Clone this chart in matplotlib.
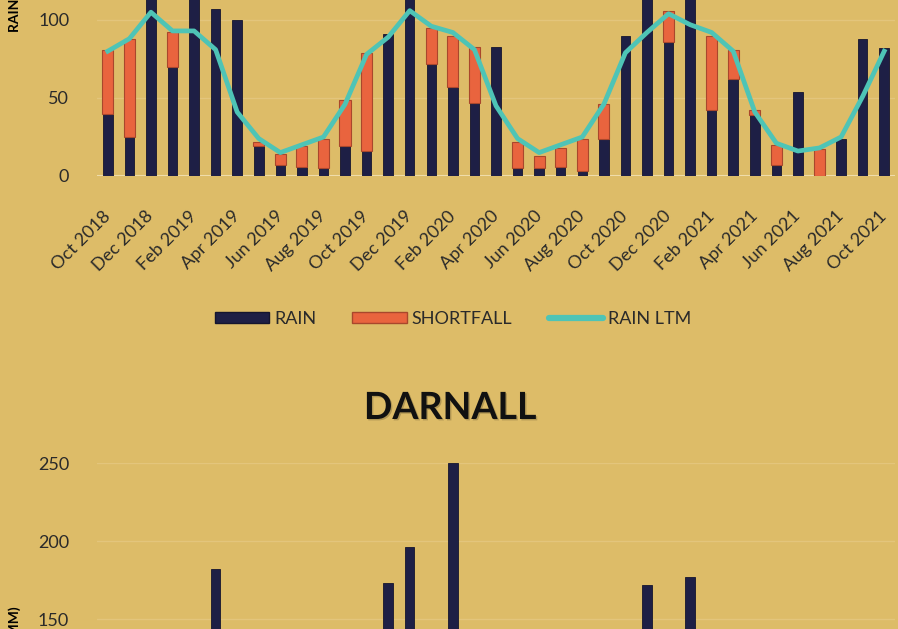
import numpy as np
import matplotlib.pyplot as plt
import matplotlib.patheffects as pe
from matplotlib.lines import Line2D
from matplotlib.patches import Patch

plt.rcParams['font.family'] = ['Lato', 'DejaVu Sans']

months = ['Oct 2018', 'Nov 2018', 'Dec 2018', 'Jan 2019', 'Feb 2019', 'Mar 2019', 'Apr 2019',
          'May 2019', 'Jun 2019', 'Jul 2019', 'Aug 2019', 'Sep 2019', 'Oct 2019', 'Nov 2019',
          'Dec 2019', 'Jan 2020', 'Feb 2020', 'Mar 2020', 'Apr 2020', 'May 2020', 'Jun 2020',
          'Jul 2020', 'Aug 2020', 'Sep 2020', 'Oct 2020', 'Nov 2020', 'Dec 2020', 'Jan 2021',
          'Feb 2021', 'Mar 2021', 'Apr 2021', 'May 2021', 'Jun 2021', 'Jul 2021', 'Aug 2021',
          'Sep 2021', 'Oct 2021']

# top chart (station name cut off above the crop)
rain = [40, 25, 140, 70, 125, 107, 100, 19, 7, 6, 5, 19, 16, 91, 150, 72, 57, 47, 83,
        5, 5, 6, 3, 24, 90, 135, 86, 130, 42, 62, 39, 7, 54, 0, 24, 88, 82]
shortfall = [41, 63, 0, 22, 0, 0, 0, 3, 7, 13, 19, 30, 63, 0, 0, 23, 33, 36, 0,
             17, 8, 12, 21, 22, 0, 0, 20, 0, 48, 19, 3, 13, 0, 17, 0, 0, 0]
rain_ltm = [80, 88, 105, 93, 93, 81, 41, 24, 15, 20, 25, 46, 78, 89, 106, 96, 92, 81, 45,
            24, 15, 20, 25, 46, 79, 92, 104, 97, 92, 80, 41, 21, 16, 18, 25, 51, 80]

# DARNALL: only bars above 150 are visible in the crop
darnall_rain = [np.nan] * 37
darnall_rain[5] = 182
darnall_rain[13] = 173
darnall_rain[14] = 196
darnall_rain[16] = 250
darnall_rain[25] = 172
darnall_rain[27] = 177

bg = '#ddbc68'
navy = '#1e1f45'
orange = '#e9643e'
teal = '#4ec4b6'
txt = '#2a2a2a'

fig = plt.figure(figsize=(8.98, 6.29), dpi=100, facecolor=bg)
W, H = 898, 629

def axes_px(left, top, right, bottom):
    return fig.add_axes([left / W, 1 - bottom / H, (right - left) / W, (bottom - top) / H])

x = np.arange(len(months))

def style(ax):
    ax.set_facecolor(bg)
    for s in ax.spines.values():
        s.set_visible(False)
    ax.set_xlim(-0.5, len(months) - 0.5)
    ax.set_ylim(0, 250)
    ax.set_yticks([0, 50, 100, 150, 200, 250])
    ax.yaxis.grid(True, color='#e3c57c', lw=1)
    ax.set_axisbelow(True)
    ax.axhline(0, color='#efdcaa', lw=1.5, zorder=1)
    ax.tick_params(length=0, labelsize=13, colors=txt)
    ax.tick_params(axis='y', pad=20)
    ax.set_ylabel('RAINFALL (MM)', fontsize=10, fontweight='bold', color='black', labelpad=12)
    ax.set_xticks(x[::2])

# top chart
ax1 = axes_px(97, -214, 895, 176)
style(ax1)
ax1.bar(x, rain, width=0.44, color=navy, edgecolor='#15152e', lw=0.6, zorder=2)
sx = [i for i in x if shortfall[i] > 0]
ax1.bar(sx, [shortfall[i] for i in sx], width=0.52, bottom=[rain[i] for i in sx],
        color=orange, edgecolor='#a9472c', lw=0.8, zorder=2)
ax1.plot(x, rain_ltm, color=teal, lw=3.4, solid_joinstyle='round', zorder=3)
ax1.set_xticklabels(months[::2], rotation=45, ha='right', va='center',
                    rotation_mode='anchor')
ax1.tick_params(axis='x', pad=27)

handles = [Patch(facecolor=navy, edgecolor='#15152e'),
           Patch(facecolor=orange, edgecolor='#a9472c'),
           Line2D([0], [0], color=teal, lw=4.5, solid_capstyle='round')]
fig.legend(handles, ['RAIN', 'SHORTFALL', 'RAIN LTM'], loc='center',
           bbox_to_anchor=(453 / W, 1 - 319 / H), ncol=3, frameon=False,
           fontsize=13, handlelength=3.0, handleheight=0.55, handletextpad=0.3,
           columnspacing=2.0, labelcolor=txt)

# bottom chart
ax2 = axes_px(97, 463, 895, 853)
style(ax2)
dx = [i for i, v in enumerate(darnall_rain) if not np.isnan(v)]
dv = [v for v in darnall_rain if not np.isnan(v)]
ax2.bar(dx, dv, width=0.44, color=navy, edgecolor='#15152e', lw=0.6, zorder=2)
ax2.set_xticklabels([])

fig.text(450 / W, 1 - 408 / H, 'DARNALL', ha='center', va='center', fontsize=27,
         fontweight='bold', color='#111111',
         path_effects=[pe.withSimplePatchShadow(offset=(1, -1), alpha=0.2)])

fig.savefig('out.png', dpi=100, facecolor=bg)
